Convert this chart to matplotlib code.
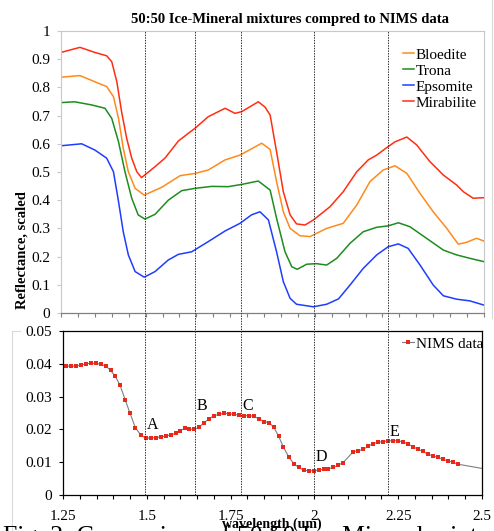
import matplotlib
matplotlib.use("Agg")
import matplotlib.pyplot as plt
from matplotlib.lines import Line2D
from matplotlib.ticker import MultipleLocator, FuncFormatter
import matplotlib.transforms as mtransforms

plt.rcParams['font.family'] = ['Liberation Serif', 'DejaVu Serif']

# ---- lab mixtures (scaled reflectance) ----
bloedite_wl = [1.25, 1.306, 1.35, 1.385, 1.405, 1.42, 1.434, 1.449, 1.469, 1.496, 1.548, 1.602,
               1.646, 1.685, 1.735, 1.779, 1.843, 1.868, 1.887, 1.907, 1.927, 1.956, 1.986, 2.035,
               2.084, 2.124, 2.163, 2.202, 2.237, 2.272, 2.311, 2.35, 2.39, 2.424, 2.449, 2.478, 2.5]
bloedite_refl = [0.836, 0.842, 0.82, 0.803, 0.767, 0.69, 0.584, 0.501, 0.442, 0.418, 0.446, 0.487,
                 0.495, 0.507, 0.543, 0.56, 0.602, 0.58, 0.466, 0.359, 0.3, 0.274, 0.271, 0.3,
                 0.318, 0.383, 0.466, 0.507, 0.522, 0.495, 0.424, 0.359, 0.3, 0.244, 0.251, 0.265, 0.255]

trona_wl = [1.25, 1.29, 1.34, 1.38, 1.40, 1.42, 1.439, 1.459, 1.478, 1.498, 1.528, 1.567, 1.607,
            1.646, 1.695, 1.744, 1.784, 1.833, 1.868, 1.887, 1.912, 1.932, 1.948, 1.976, 2.005,
            2.035, 2.065, 2.104, 2.143, 2.183, 2.217, 2.247, 2.281, 2.330, 2.380, 2.419, 2.458, 2.5]
trona_refl = [0.746, 0.749, 0.738, 0.726, 0.69, 0.607, 0.501, 0.407, 0.348, 0.333, 0.35, 0.4, 0.434,
              0.442, 0.449, 0.448, 0.456, 0.468, 0.436, 0.336, 0.217, 0.164, 0.155, 0.173, 0.175,
              0.17, 0.194, 0.247, 0.288, 0.304, 0.309, 0.32, 0.306, 0.265, 0.223, 0.206, 0.194, 0.182]

epsomite_wl = [1.25, 1.311, 1.35, 1.385, 1.405, 1.42, 1.434, 1.449, 1.469, 1.496, 1.528, 1.567,
               1.597, 1.636, 1.685, 1.735, 1.779, 1.813, 1.838, 1.863, 1.887, 1.907, 1.927, 1.946,
               1.996, 2.035, 2.07, 2.104, 2.143, 2.183, 2.217, 2.247, 2.276, 2.311, 2.35, 2.38,
               2.419, 2.458, 2.5]
epsomite_refl = [0.593, 0.6, 0.578, 0.549, 0.501, 0.395, 0.288, 0.206, 0.147, 0.127, 0.147, 0.188,
                 0.208, 0.217, 0.253, 0.291, 0.318, 0.348, 0.359, 0.33, 0.217, 0.111, 0.052, 0.031,
                 0.022, 0.031, 0.05, 0.099, 0.158, 0.206, 0.235, 0.245, 0.229, 0.17, 0.099, 0.061,
                 0.049, 0.043, 0.028]

mirabilite_wl = [1.25, 1.306, 1.35, 1.385, 1.40, 1.415, 1.429, 1.444, 1.459, 1.474, 1.488, 1.528,
                 1.557, 1.597, 1.626, 1.646, 1.685, 1.735, 1.764, 1.784, 1.833, 1.853, 1.868, 1.887,
                 1.907, 1.927, 1.946, 1.971, 1.996, 2.045, 2.084, 2.124, 2.158, 2.183, 2.212, 2.237,
                 2.272, 2.301, 2.340, 2.380, 2.419, 2.439, 2.468, 2.5]
mirabilite_refl = [0.924, 0.942, 0.924, 0.912, 0.891, 0.82, 0.714, 0.62, 0.549, 0.501, 0.48, 0.519,
                   0.549, 0.61, 0.637, 0.655, 0.696, 0.726, 0.708, 0.714, 0.749, 0.73, 0.702, 0.572,
                   0.43, 0.348, 0.316, 0.312, 0.33, 0.377, 0.43, 0.501, 0.543, 0.56, 0.586, 0.607,
                   0.624, 0.596, 0.537, 0.489, 0.454, 0.43, 0.407, 0.409]

# ---- NIMS spectrum (first and last points are line-only) ----
nims_wl = [1.25, 1.259, 1.274, 1.289, 1.304, 1.319, 1.334, 1.348, 1.363, 1.378, 1.392, 1.406, 1.420,
           1.436, 1.450, 1.466, 1.482, 1.497, 1.512, 1.527, 1.541, 1.556, 1.571, 1.586, 1.599,
           1.613, 1.627, 1.642, 1.657, 1.672, 1.686, 1.701, 1.716, 1.731, 1.746, 1.761, 1.776,
           1.790, 1.805, 1.820, 1.836, 1.851, 1.865, 1.879, 1.893, 1.907, 1.923, 1.938, 1.953,
           1.968, 1.983, 1.998, 2.013, 2.028, 2.042, 2.056, 2.071, 2.086, 2.116, 2.131, 2.146,
           2.161, 2.176, 2.191, 2.206, 2.220, 2.235, 2.250, 2.265, 2.280, 2.295, 2.310, 2.323,
           2.338, 2.353, 2.368, 2.383, 2.398, 2.413, 2.428, 2.5]
nims_refl = [0.0393, 0.0393, 0.0393, 0.0393, 0.0396, 0.0400, 0.0402, 0.0401, 0.0399, 0.0393, 0.0380,
             0.0362, 0.0335, 0.0289, 0.0249, 0.0205, 0.0183, 0.0173, 0.0174, 0.0175, 0.0177,
             0.0180, 0.0183, 0.0188, 0.0195, 0.0203, 0.0201, 0.0200, 0.0208, 0.0221, 0.0233,
             0.0242, 0.0246, 0.0249, 0.0248, 0.0246, 0.0243, 0.0242, 0.0242, 0.0240, 0.0231,
             0.0223, 0.0221, 0.0206, 0.0180, 0.0147, 0.0117, 0.0096, 0.0084, 0.0076, 0.0074,
             0.0074, 0.0076, 0.0078, 0.0080, 0.0084, 0.0091, 0.0099, 0.0132, 0.0135, 0.0139,
             0.0149, 0.0157, 0.0161, 0.0163, 0.0165, 0.0166, 0.0165, 0.0162, 0.0155, 0.0147,
             0.0139, 0.0133, 0.0125, 0.0119, 0.0115, 0.0109, 0.0104, 0.0100, 0.0094, 0.0081]

# absorption band markers
band_labels = ['A', 'B', 'C', 'D', 'E']
band_wl = [1.495, 1.645, 1.78, 2.0, 2.22]
band_label_y = [0.0213, 0.0271, 0.0271, 0.0115, 0.0191]

W, H = 494, 531
fig = plt.figure(figsize=(W / 100, H / 100), dpi=100)

ax1 = fig.add_axes([61 / W, 1 - 313 / H, (484 - 61) / W, (313 - 31) / H])
ax2 = fig.add_axes([63 / W, 1 - 495 / H, (482 - 63) / W, (495 - 331) / H])

lw = 1.1
ax1.plot(bloedite_wl, bloedite_refl, color='#FF8A1C', lw=lw, label='Bloedite')
ax1.plot(trona_wl, trona_refl, color='#1E8C1E', lw=lw, label='Trona')
ax1.plot(epsomite_wl, epsomite_refl, color='#1F3DFF', lw=lw, label='Epsomite')
ax1.plot(mirabilite_wl, mirabilite_refl, color='#FF2E12', lw=lw, label='Mirabilite')

ax1.set_xlim(1.25, 2.5)
ax1.set_ylim(0, 1)
ax1.xaxis.set_major_locator(MultipleLocator(0.05))
ax1.xaxis.set_ticklabels([])
ax1.yaxis.set_major_locator(MultipleLocator(0.1))
ax1.yaxis.set_major_formatter(FuncFormatter(lambda v, p: '%g' % round(v, 2)))
ax1.tick_params(axis='x', direction='out', length=3, width=0.8, color='#808080')
ax1.tick_params(axis='y', direction='out', length=3, width=0.8, color='#C8C8C8',
                labelsize=11, pad=5)
for s in ['left', 'top', 'right']:
    ax1.spines[s].set_color('#C8C8C8')
    ax1.spines[s].set_linewidth(0.8)
ax1.spines['bottom'].set_color('#808080')
ax1.spines['bottom'].set_linewidth(0.9)

ax1.legend(loc='upper left', bbox_to_anchor=(403 / W, 1 - 48 / H),
           bbox_transform=fig.transFigure, frameon=False, fontsize=11,
           handlelength=0.75, handletextpad=0.1, labelspacing=0.15,
           borderpad=0, borderaxespad=0)

# NIMS panel
ax2.plot(nims_wl, nims_refl, color='#7F7F7F', lw=0.8, marker='s', markersize=2.6,
         markerfacecolor='#E8281A', markeredgewidth=0,
         markevery=slice(1, len(nims_wl) - 1), label='NIMS data')
ax2.set_xlim(1.25, 2.5)
ax2.set_ylim(0, 0.05)
ax2.xaxis.set_major_locator(MultipleLocator(0.25))
ax2.xaxis.set_minor_locator(MultipleLocator(0.05))
ax2.xaxis.set_major_formatter(FuncFormatter(lambda v, p: '%g' % round(v, 2)))
ax2.yaxis.set_major_locator(MultipleLocator(0.01))
ax2.yaxis.set_major_formatter(FuncFormatter(lambda v, p: '%g' % round(v, 3)))
ax2.tick_params(axis='both', which='both', direction='out', length=3, width=0.8,
                labelsize=11)
ax2.tick_params(axis='x', pad=8)
ax2.tick_params(axis='y', pad=5)
for s in ax2.spines.values():
    s.set_linewidth(0.9)

ax2.legend(loc='upper left', bbox_to_anchor=(402 / W, 1 - 337 / H),
           bbox_transform=fig.transFigure, frameon=False, fontsize=11,
           handlelength=0.8, handletextpad=0.1, borderpad=0, borderaxespad=0)

for lab, x, y in zip(band_labels, band_wl, band_label_y):
    ax2.text(x + 0.004, y, lab, fontsize=11.5, ha='left', va='center')

# dotted band lines spanning both panels
tr = mtransforms.blended_transform_factory(ax2.transData, fig.transFigure)
for x in band_wl:
    fig.add_artist(Line2D([x, x], [1 - 495 / H, 1 - 31 / H], transform=tr,
                          color='#333333', lw=0.7, ls=(0, (1.5, 1.2))))

fig.text(290 / W, 1 - 20 / H, '50:50 Ice-Mineral mixtures compred to NIMS data',
         ha='center', va='center', fontsize=10.5, fontweight='bold')
fig.text(22 / W, 1 - 250 / H, 'Reflectance, scaled', rotation=90,
         ha='center', va='center', fontsize=10.5, fontweight='bold')

# caption from the paper, cut by the page edge
fig.text(3 / W, -12 / H, 'Fig. 2: Comparison of 50:50 Ice-Mineral mixtures and NIMS data',
         ha='left', va='baseline', fontsize=18.5)
fig.text(272 / W, 1 - 524 / H, 'wavelength (um)', ha='center', va='center',
         fontsize=10, fontweight='bold')

# faint chart borders
fig.add_artist(Line2D([12 / W, 12 / W], [0, 1 - 331 / H], color='#DADADA', lw=0.8))
fig.add_artist(Line2D([12 / W, 20 / W], [1 - 331 / H, 1 - 331 / H], color='#DADADA', lw=0.8))
fig.add_artist(Line2D([491.5 / W, 491.5 / W], [1 - 318 / H, 1], color='#DADADA', lw=0.8))

fig.savefig('out.png', dpi=100)
